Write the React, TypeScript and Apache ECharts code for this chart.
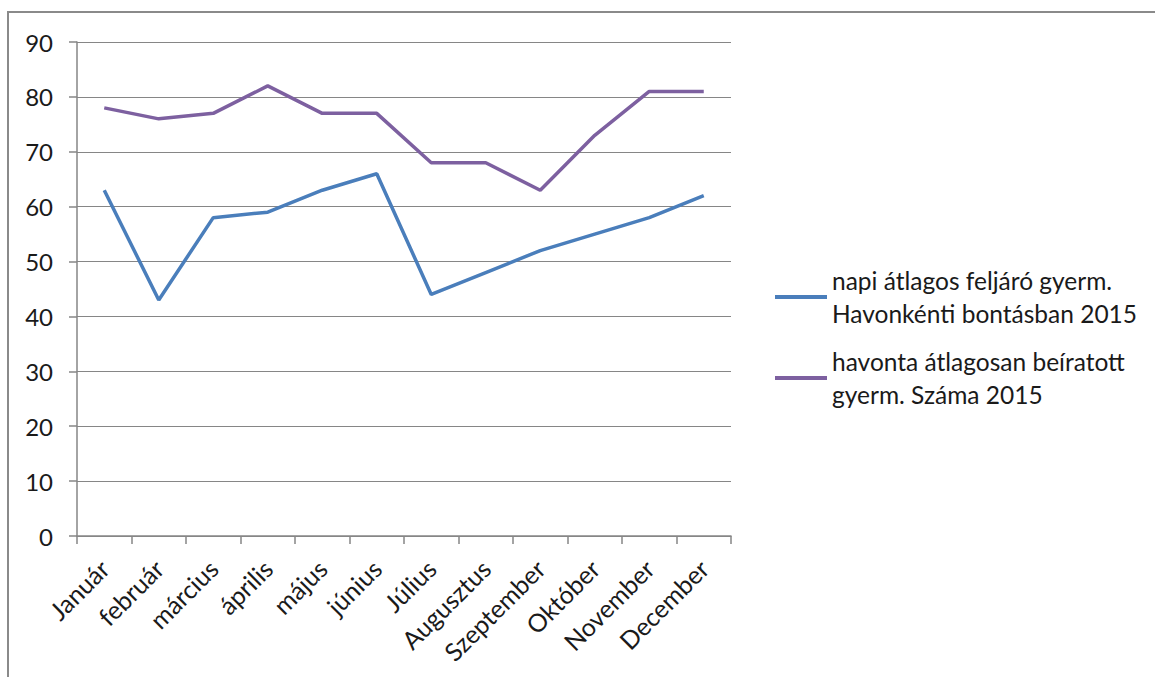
import React, { useEffect, useRef } from "react";
import * as echarts from "echarts";

const months = [
  "Január", "február", "március", "április", "május", "június",
  "Július", "Augusztus", "Szeptember", "Október", "November", "December",
];
const dailyAttending = [63, 43, 58, 59, 63, 66, 44, 48, 52, 55, 58, 62];
const enrolled = [78, 76, 77, 82, 77, 77, 68, 68, 63, 73, 81, 81];
const seriesNames = [
  "napi átlagos feljáró gyerm.\nHavonkénti bontásban 2015",
  "havonta átlagosan beíratott\ngyerm. Száma 2015",
];
const seriesColors = ["#4a7ebb", "#7d60a0"];

const FONT = "Lato, 'Liberation Sans', sans-serif";

export default function App() {
  const ref = useRef<HTMLDivElement>(null);
  useEffect(() => {
    if (!ref.current) return;
    const chart = echarts.init(ref.current, null, { renderer: "svg" });
    chart.setOption({
      animation: false,
      backgroundColor: "#ffffff",
      textStyle: { fontFamily: FONT },
      grid: { left: 77, top: 42, right: 424, bottom: 141, containLabel: false },
      graphic: [
        {
          type: "rect",
          shape: { x: 8, y: 12, width: 1300, height: 800 },
          style: { fill: "none", stroke: "#8a8a8a", lineWidth: 2 },
          silent: true,
        },
      ],
      legend: {
        orient: "vertical",
        left: 770,
        top: 292 - 49.5,
        itemWidth: 52,
        itemHeight: 4,
        itemGap: -18,
        icon: "rect",
        data: seriesNames,
        textStyle: {
          fontFamily: FONT,
          fontSize: 24.5,
          color: "#1a1a1a",
          lineHeight: 33,
          padding: [33, 0, 0, 0],
        },
      },
      xAxis: {
        type: "category",
        data: months,
        boundaryGap: true,
        axisLine: { show: true, lineStyle: { color: "#868686", width: 1.5 } },
        axisTick: { show: true, interval: 0, length: 8, lineStyle: { color: "#868686", width: 1.5 } },
        axisLabel: {
          interval: 0,
          rotate: 45,
          margin: 28,
          fontFamily: FONT,
          fontSize: 25,
          color: "#1a1a1a",
        },
        splitLine: { show: false },
      },
      yAxis: {
        type: "value",
        min: 0,
        max: 90,
        interval: 10,
        axisLine: { show: true, lineStyle: { color: "#868686", width: 1.5 } },
        axisTick: { show: true, length: 8, lineStyle: { color: "#868686", width: 1.5 } },
        axisLabel: {
          margin: 24,
          fontFamily: FONT,
          fontSize: 24,
          color: "#1a1a1a",
        },
        splitLine: { show: true, lineStyle: { color: "#868686", width: 1.2 } },
      },
      series: [
        {
          name: seriesNames[0],
          type: "line",
          data: dailyAttending,
          showSymbol: false,
          symbol: "none",
          lineStyle: { color: seriesColors[0], width: 3.5 },
          itemStyle: { color: seriesColors[0] },
        },
        {
          name: seriesNames[1],
          type: "line",
          data: enrolled,
          showSymbol: false,
          symbol: "none",
          lineStyle: { color: seriesColors[1], width: 3.5 },
          itemStyle: { color: seriesColors[1] },
        },
      ],
    });
    return () => chart.dispose();
  }, []);
  return (
    <div
      ref={ref}
      style={{ position: "absolute", left: 0, top: 0, width: 1155, height: 677 }}
    />
  );
}
